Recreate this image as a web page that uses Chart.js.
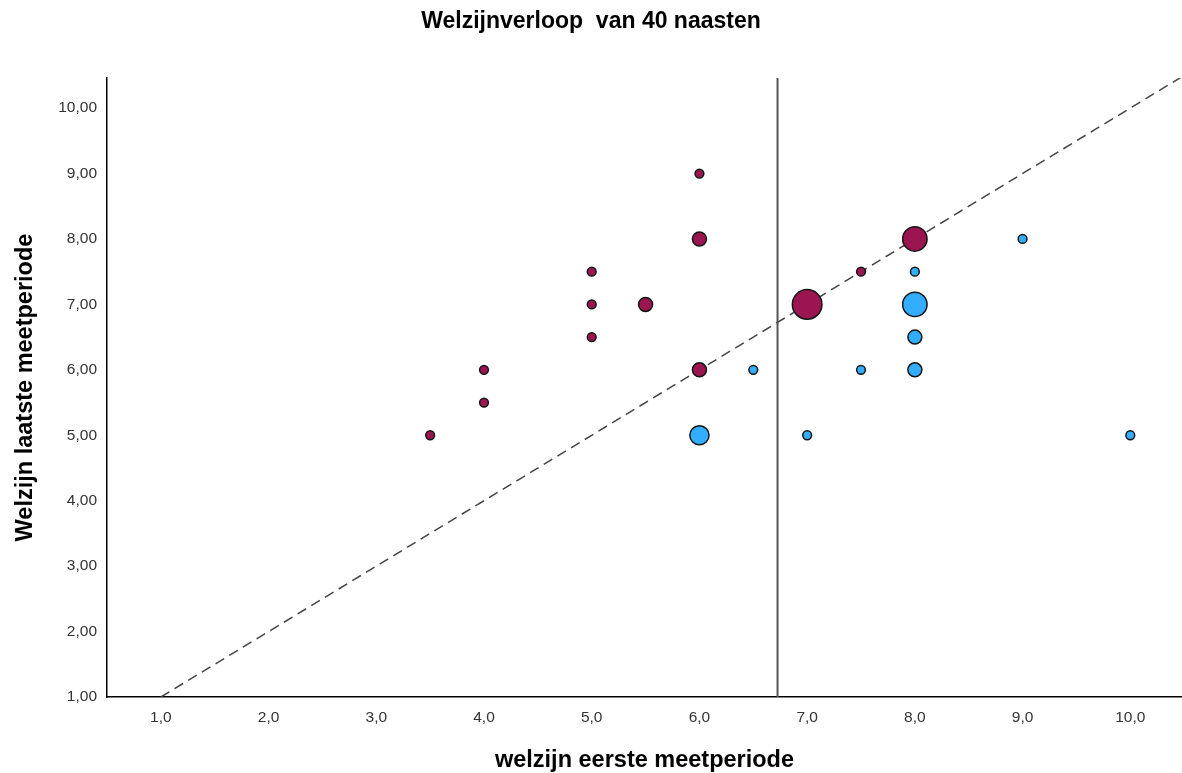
<!DOCTYPE html>
<html>
<head>
<meta charset="utf-8">
<script src="https://cdn.jsdelivr.net/npm/chart.js@4"></script>
<style>
  html, body { margin: 0; padding: 0; background: #fff; }
  #wrap { width: 1182px; height: 773px; }
</style>
</head>
<body>
<div id="wrap"><canvas id="scatterChart"></canvas></div>
<script>
// Welzijn eerste vs laatste meetperiode, marker size = aantal naasten
const redX     = [3.5, 4.0, 4.0, 5.0, 5.0, 5.0, 5.5, 6.0, 6.0, 6.0, 7.0, 7.5, 8.0];
const redY     = [5.0, 6.0, 5.5, 7.5, 7.0, 6.5, 7.0, 9.0, 8.0, 6.0, 7.0, 7.5, 8.0];
const redCount = [1,   1,   1,   1,   1,   1,   2,   1,   2,   2,   5,   1,   4];

const blueX     = [6.0, 6.5, 7.0, 7.5, 8.0, 8.0, 8.0, 8.0, 9.0, 10.0];
const blueY     = [5.0, 6.0, 5.0, 6.0, 7.5, 7.0, 6.5, 6.0, 8.0, 5.0];
const blueCount = [3,   1,   1,   1,   1,   4,   2,   2,   1,   1];

const xTicks = [1, 2, 3, 4, 5, 6, 7, 8, 9, 10];
const yTicks = [1, 2, 3, 4, 5, 6, 7, 8, 9, 10];
const meanFirst = 6.725;
const diagonal = [1, 10.6];

const FONT = "'Liberation Sans', Arial, sans-serif";

function toPoints(xs, ys) {
    return xs.map((x, i) => ({ x: x, y: ys[i] }));
}

function radiusFor(counts) {
    return counts.map(n => 1.8 + 2.6 * n);
}

const ctx = document.getElementById('scatterChart').getContext('2d');

new Chart(ctx, {
    type: 'scatter',
    data: {
        datasets: [
            {
                type: 'line',
                data: diagonal.map(v => ({ x: v, y: v })),
                borderColor: '#444',
                borderWidth: 1.5,
                borderDash: [10, 6],
                pointRadius: 0,
                fill: false,
                order: 3
            },
            {
                type: 'line',
                data: [{ x: meanFirst, y: 0 }, { x: meanFirst, y: 11 }],
                borderColor: '#555',
                borderWidth: 2,
                pointRadius: 0,
                fill: false,
                order: 3
            },
            {
                data: toPoints(redX, redY),
                backgroundColor: '#9b1650',
                borderColor: '#151515',
                borderWidth: 1.5,
                pointRadius: radiusFor(redCount),
                order: 1
            },
            {
                data: toPoints(blueX, blueY),
                backgroundColor: '#33adff',
                borderColor: '#151515',
                borderWidth: 1.5,
                pointRadius: radiusFor(blueCount),
                order: 2
            }
        ]
    },
    options: {
        responsive: true,
        maintainAspectRatio: false,
        animation: false,
        layout: { padding: 0, autoPadding: false },
        plugins: {
            legend: { display: false },
            tooltip: { enabled: false },
            title: {
                display: true,
                text: 'Welzijnverloop  van 40 naasten',
                color: '#000',
                font: { family: FONT, size: 23, weight: 'bold', lineHeight: 1.2 },
                padding: { top: 8, bottom: 42.4 }
            }
        },
        scales: {
            x: {
                type: 'linear',
                min: 0.5,
                max: 10.48,
                afterBuildTicks: function(scale) {
                    scale.ticks = xTicks.map(v => ({ value: v }));
                },
                afterFit: function(scale) {
                    scale.height = 76;
                    scale.paddingLeft = 0;
                    scale.paddingRight = 0;
                },
                grid: { display: false, drawTicks: false },
                border: { display: true, color: '#000', width: 1.5 },
                ticks: {
                    padding: 11,
                    color: '#333',
                    font: { family: FONT, size: 15.5 },
                    callback: v => v.toFixed(1).replace('.', ',')
                },
                title: {
                    display: true,
                    text: 'welzijn eerste meetperiode',
                    color: '#000',
                    font: { family: FONT, size: 23.5, weight: 'bold', lineHeight: 1 },
                    padding: { top: 0, bottom: 1 }
                }
            },
            y: {
                type: 'linear',
                min: 1,
                max: 10.46,
                afterBuildTicks: function(scale) {
                    scale.ticks = yTicks.map(v => ({ value: v }));
                },
                afterFit: function(scale) {
                    scale.width = 107;
                    scale.paddingTop = 0;
                    scale.paddingBottom = 0;
                },
                grid: { display: false, drawTicks: false },
                border: { display: true, color: '#000', width: 1.5 },
                ticks: {
                    padding: 10,
                    color: '#333',
                    font: { family: FONT, size: 15.5 },
                    callback: v => v.toFixed(2).replace('.', ',')
                },
                title: {
                    display: true,
                    text: 'Welzijn laatste meetperiode',
                    color: '#000',
                    font: { family: FONT, size: 23.5, weight: 'bold', lineHeight: 1 },
                    padding: { top: 14, bottom: 0 }
                }
            }
        }
    }
});
</script>
</body>
</html>
